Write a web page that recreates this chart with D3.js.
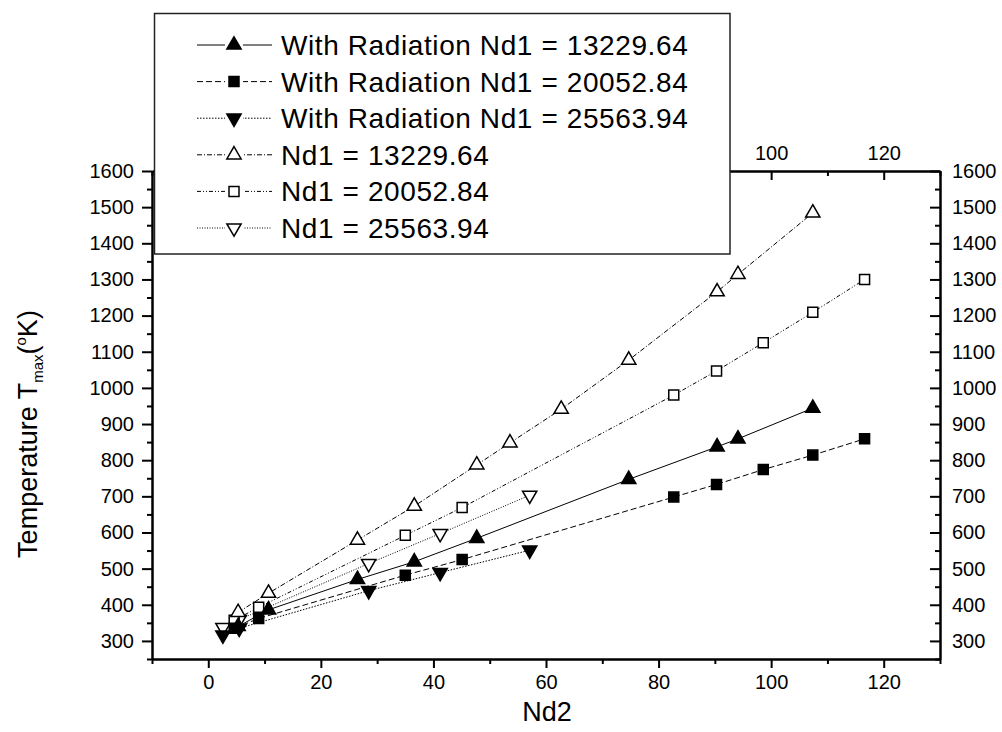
<!DOCTYPE html>
<html>
<head>
<meta charset="utf-8">
<script src="https://cdn.jsdelivr.net/npm/d3@7"></script>
<style>
  body { margin: 0; background: #fff; }
  svg { display: block; font-family: "Liberation Sans", Arial, sans-serif; }
</style>
</head>
<body>
<svg id="chart" width="1002" height="732"></svg>
<script>
// values
const nd2Tri = [5.3, 10.7, 26.5, 36.6, 47.7, 53.6, 62.7, 74.7, 90.4, 94.1, 107.4];
const tOpenTri = [379, 432, 579, 673, 787, 848, 941, 1077, 1266, 1314, 1484];
const nd2FillTri = [5.3, 10.7, 26.5, 36.6, 47.7, 74.7, 90.4, 94.1, 107.4];
const tFillTri = [340, 386, 470, 519, 584, 747, 837, 859, 944];
const nd2Sq = [4.6, 8.95, 35.0, 45.1, 82.7, 90.3, 98.6, 107.4, 116.6];
const tOpenSq = [357, 393, 592, 669, 980, 1047, 1125, 1209, 1300];
const tFillSq = [335, 362, 482, 525, 698, 733, 774, 814, 859];
const nd2Inv = [2.6, 5.5, 28.5, 41.2, 57.1];
const tOpenInv = [337, 359, 514, 597, 703];
const tFillInv = [316, 335, 439, 489, 551];

const xTicks = [0, 20, 40, 60, 80, 100, 120];
const yTicks = [300, 400, 500, 600, 700, 800, 900, 1000, 1100, 1200, 1300, 1400, 1500, 1600];

const series = [
  {name: "With Radiation Nd1 = 13229.64", xs: nd2FillTri, ys: tFillTri, shape: "up", filled: true, dash: null},
  {name: "With Radiation Nd1 = 20052.84", xs: nd2Sq, ys: tFillSq, shape: "square", filled: true, dash: "6,3"},
  {name: "With Radiation Nd1 = 25563.94", xs: nd2Inv, ys: tFillInv, shape: "down", filled: true, dash: "1.5,1.5"},
  {name: "Nd1 = 13229.64", xs: nd2Tri, ys: tOpenTri, shape: "up", filled: false, dash: "5,2,1,2"},
  {name: "Nd1 = 20052.84", xs: nd2Sq, ys: tOpenSq, shape: "square", filled: false, dash: "4,2,1,2,1,2"},
  {name: "Nd1 = 25563.94", xs: nd2Inv, ys: tOpenInv, shape: "down", filled: false, dash: "1,1.5"}
];

const svg = d3.select("#chart");
const x = d3.scaleLinear().domain([-10, 130]).range([152, 940]);
const y = d3.scaleLinear().domain([250, 1600]).range([659, 171]);

const minorX = d3.range(-10, 131, 10).filter(v => v % 20 !== 0);
const minorY = d3.range(250, 1601, 50).filter(v => v % 100 !== 0);
const fmt = d3.format("d");

function styleAxis(g) {
  g.selectAll("path.domain").attr("stroke", "#000").attr("stroke-width", 2);
  g.selectAll(".tick line").attr("stroke", "#000").attr("stroke-width", 2);
  g.selectAll(".tick text").attr("font-size", 20).attr("fill", "#000")
    .attr("font-family", "Liberation Sans, Arial, sans-serif");
}

// bottom
svg.append("g").attr("transform", "translate(0,659)")
  .call(d3.axisBottom(x).tickValues(xTicks).tickFormat(fmt).tickSize(9).tickSizeOuter(0).tickPadding(7))
  .call(styleAxis);
svg.append("g").attr("transform", "translate(0,659)")
  .call(d3.axisBottom(x).tickValues(minorX).tickSize(5).tickSizeOuter(0).tickFormat(""))
  .call(styleAxis);
// top (ticks inward); labels under the legend box are not visible in the picture
svg.append("g").attr("transform", "translate(0,171)")
  .call(d3.axisTop(x).tickValues(xTicks).tickSize(-9).tickSizeOuter(0).tickPadding(11)
    .tickFormat(v => v >= 100 ? fmt(v) : ""))
  .call(styleAxis);
svg.append("g").attr("transform", "translate(0,171)")
  .call(d3.axisTop(x).tickValues(minorX).tickSize(-5).tickSizeOuter(0).tickFormat(""))
  .call(styleAxis);
// left
svg.append("g").attr("transform", "translate(152,0)")
  .call(d3.axisLeft(y).tickValues(yTicks).tickFormat(fmt).tickSize(10).tickSizeOuter(0).tickPadding(8))
  .call(styleAxis);
svg.append("g").attr("transform", "translate(152,0)")
  .call(d3.axisLeft(y).tickValues(minorY).tickSize(5).tickSizeOuter(0).tickFormat(""))
  .call(styleAxis);
// right (ticks inward)
svg.append("g").attr("transform", "translate(940,0)")
  .call(d3.axisRight(y).tickValues(yTicks).tickFormat(fmt).tickSize(-10).tickSizeOuter(0).tickPadding(12))
  .call(styleAxis);
svg.append("g").attr("transform", "translate(940,0)")
  .call(d3.axisRight(y).tickValues(minorY).tickSize(-5).tickSizeOuter(0).tickFormat(""))
  .call(styleAxis);

// axis titles
svg.append("text").attr("x", 547).attr("y", 721).attr("text-anchor", "middle")
  .attr("font-size", 27).text("Nd2");

const yl = svg.append("text").attr("transform", "translate(37,434) rotate(-90)")
  .attr("text-anchor", "middle").attr("font-size", 27);
yl.append("tspan").text("Temperature T");
yl.append("tspan").attr("font-size", 15).attr("dy", 6).text("max");
yl.append("tspan").attr("dy", -6).text("(");
yl.append("tspan").attr("font-size", 15).attr("dy", -11).text("o");
yl.append("tspan").attr("dy", 11).text("K)");

function markerPath(shape) {
  if (shape === "square") return d3.symbol(d3.symbolSquare, 100)();
  return d3.symbol(d3.symbolTriangle, 88)();
}

function drawMarker(g, shape, filled) {
  g.append("path").attr("d", markerPath(shape))
    .attr("transform", shape === "down" ? "rotate(180)" : null)
    .attr("fill", filled ? "#000" : "#fff")
    .attr("stroke", "#000").attr("stroke-width", 1.5);
}

const line = d3.line().x(d => x(d[0])).y(d => y(d[1]));

// lines first, markers on top
series.forEach(s => {
  const pts = s.xs.map((v, i) => [v, s.ys[i]]);
  svg.append("path").attr("d", line(pts)).attr("fill", "none")
    .attr("stroke", "#000").attr("stroke-width", 1)
    .attr("stroke-dasharray", s.dash);
});
series.slice().reverse().forEach(s => {
  s.xs.forEach((v, i) => {
    const g = svg.append("g").attr("transform", `translate(${x(v)},${y(s.ys[i])})`);
    drawMarker(g, s.shape, s.filled);
  });
});

// legend
const lg = svg.append("g");
lg.append("rect").attr("x", 154.5).attr("y", 13.5).attr("width", 575.5).attr("height", 240.5)
  .attr("fill", "#fff").attr("stroke", "#222").attr("stroke-width", 1.5);
series.forEach((s, i) => {
  const cy = 45 + i * 36.6;
  lg.append("line").attr("x1", 197).attr("x2", 272).attr("y1", cy).attr("y2", cy)
    .attr("stroke", "#000").attr("stroke-width", 1).attr("stroke-dasharray", s.dash);
  const g = lg.append("g").attr("transform", `translate(234,${cy})`);
  g.append("rect").attr("x", -9).attr("y", -9).attr("width", 18).attr("height", 18).attr("fill", "#fff");
  drawMarker(g, s.shape, s.filled);
  lg.append("text").attr("x", 281).attr("y", cy + 10).attr("font-size", 28)
    .attr("letter-spacing", 0.6).text(s.name);
});
</script>
</body>
</html>
